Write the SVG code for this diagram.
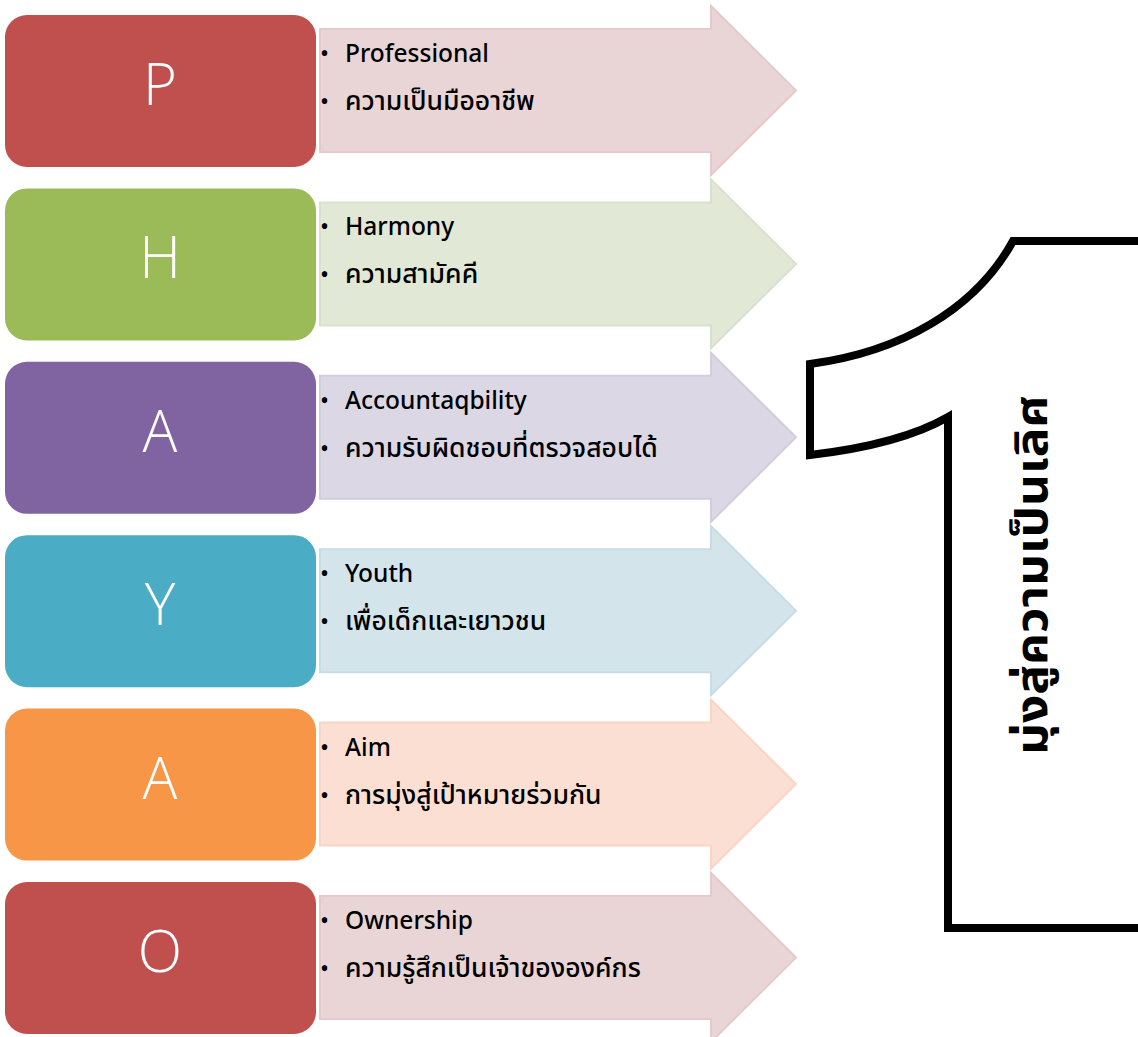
<svg xmlns="http://www.w3.org/2000/svg" width="1138" height="1037" viewBox="0 0 1138 1037">
<style>
.lbl{font-family:"Open Sans","Noto Sans",sans-serif;font-weight:300;font-size:58px;fill:#fff;text-anchor:middle}
.t{font-family:"Noto Sans","Noto Sans Thai",sans-serif;font-size:24.5px;font-weight:500;fill:#000}
.th{font-family:"Noto Sans","Noto Sans Thai",sans-serif;font-size:26.5px;font-weight:500;fill:#000}
.b{font-family:"Noto Sans",sans-serif;font-size:24px;fill:#000}
.vt{font-family:"Noto Sans","Noto Sans Thai",sans-serif;font-weight:bold;font-size:44px;fill:#000;text-anchor:middle}
</style>
<defs>
<path id="arr" d="M320 29 L711 29 L711 6 L796 90.5 L711 175 L711 152 L320 152 Z"/>
</defs>
<rect width="1138" height="1037" fill="#fff"/>
<g id="one">
<path d="M1150 241 L1013 241 C975 310 900 352 810 364 L810 455 C870 448 915 436 948 417 L948 928 L1150 928" fill="#fff" stroke="#000" stroke-width="8" stroke-linejoin="miter"/>
<text class="vt" transform="translate(1047 575) rotate(-90)" textLength="360" lengthAdjust="spacingAndGlyphs">มุ่งสู่ความเป็นเลิศ</text>
</g>
<g id="rowP">
<use href="#arr" fill="#E9D5D6" stroke="#E4CACB" stroke-width="2"/>
<rect x="5" y="15" width="311" height="152" rx="22" fill="#C0504D"/>
<text class="lbl" x="160" y="105">P</text>
<text class="b" x="320" y="62">•</text><text class="t" x="345" y="62">Professional</text>
<text class="b" x="320" y="110">•</text><text class="th" x="345" y="110">ความเป็นมืออาชีพ</text>
</g>
<g id="rowH" transform="translate(0 173.4)">
<use href="#arr" fill="#E1E9D6" stroke="#D8E2CA" stroke-width="2"/>
<rect x="5" y="15" width="311" height="152" rx="22" fill="#9BBB59"/>
<text class="lbl" x="160" y="105">H</text>
<text class="b" x="320" y="62">•</text><text class="t" x="345" y="62">Harmony</text>
<text class="b" x="320" y="110">•</text><text class="th" x="345" y="110">ความสามัคคี</text>
</g>
<g id="rowA1" transform="translate(0 346.8)">
<use href="#arr" fill="#DCD7E4" stroke="#D2CCDD" stroke-width="2"/>
<rect x="5" y="15" width="311" height="152" rx="22" fill="#8064A2"/>
<text class="lbl" x="160" y="105">A</text>
<text class="b" x="320" y="62">•</text><text class="t" x="345" y="62">Accountaqbility</text>
<text class="b" x="320" y="110">•</text><text class="th" x="345" y="110">ความรับผิดชอบที่ตรวจสอบได้</text>
</g>
<g id="rowY" transform="translate(0 520.2)">
<use href="#arr" fill="#D3E4EB" stroke="#C7DDE6" stroke-width="2"/>
<rect x="5" y="15" width="311" height="152" rx="22" fill="#4BACC6"/>
<text class="lbl" x="160" y="105">Y</text>
<text class="b" x="320" y="62">•</text><text class="t" x="345" y="62">Youth</text>
<text class="b" x="320" y="110">•</text><text class="th" x="345" y="110">เพื่อเด็กและเยาวชน</text>
</g>
<g id="rowA2" transform="translate(0 693.6)">
<use href="#arr" fill="#FBDFD3" stroke="#F8D5C5" stroke-width="2"/>
<rect x="5" y="15" width="311" height="152" rx="22" fill="#F79646"/>
<text class="lbl" x="160" y="105">A</text>
<text class="b" x="320" y="62">•</text><text class="t" x="345" y="62">Aim</text>
<text class="b" x="320" y="110">•</text><text class="th" x="345" y="110">การมุ่งสู่เป้าหมายร่วมกัน</text>
</g>
<g id="rowO" transform="translate(0 867)">
<use href="#arr" fill="#E9D5D6" stroke="#E4CACB" stroke-width="2"/>
<rect x="5" y="15" width="311" height="152" rx="22" fill="#C0504D"/>
<text class="lbl" x="160" y="105">O</text>
<text class="b" x="320" y="62">•</text><text class="t" x="345" y="62">Ownership</text>
<text class="b" x="320" y="110">•</text><text class="th" x="345" y="110">ความรู้สึกเป็นเจ้าขององค์กร</text>
</g>
</svg>
